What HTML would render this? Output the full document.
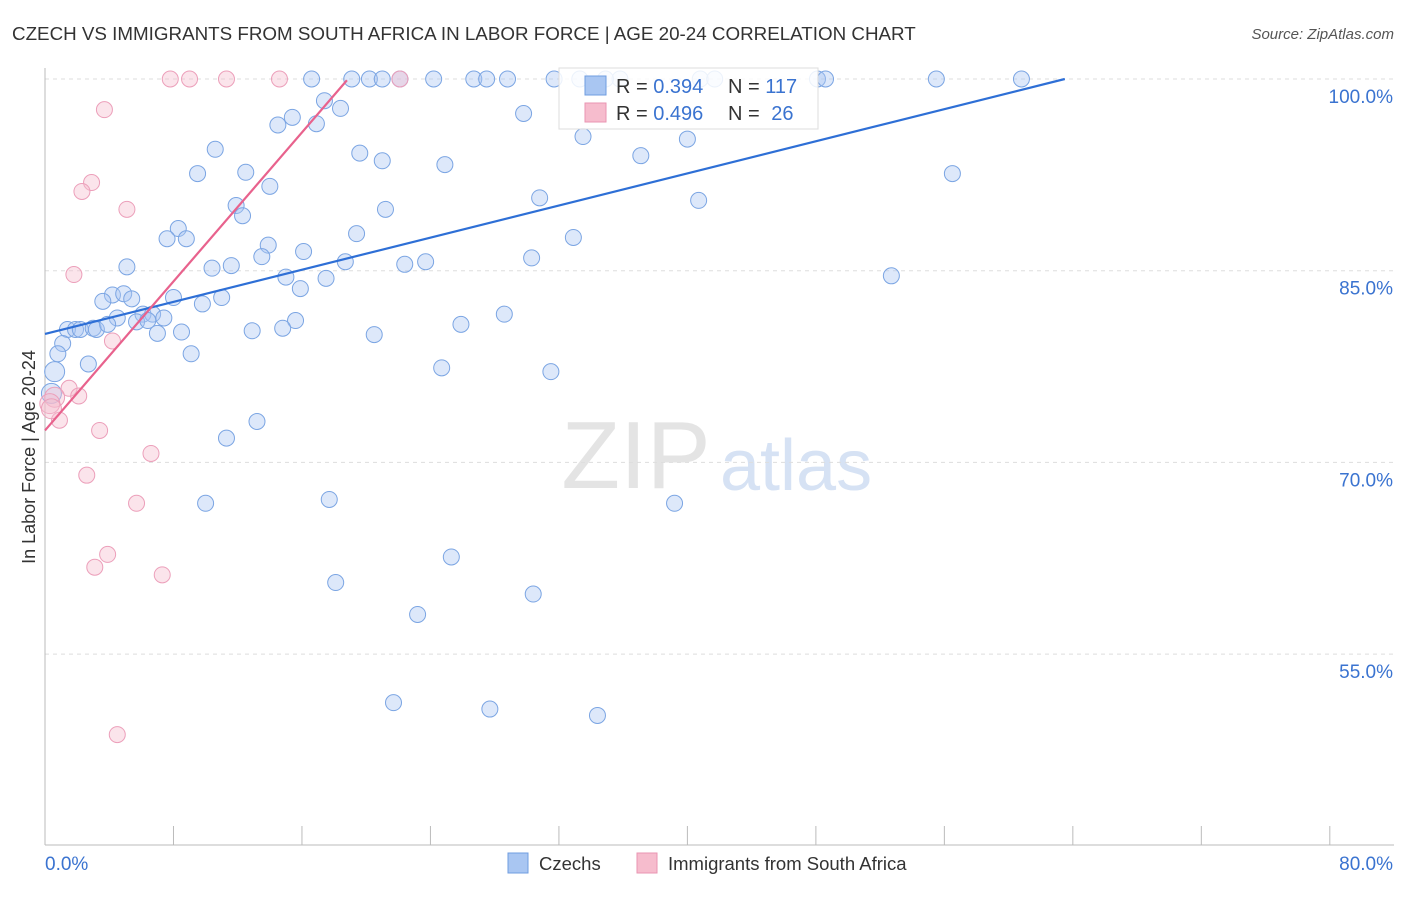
<!DOCTYPE html>
<html><head><meta charset="utf-8"><style>
body{margin:0;background:#fff;font-family:"Liberation Sans",sans-serif;}
svg text{font-family:"Liberation Sans",sans-serif;}
</style></head><body>
<svg id="chart" width="1406" height="892">
<text x="12" y="40" font-size="18.8" fill="#333">CZECH VS IMMIGRANTS FROM SOUTH AFRICA IN LABOR FORCE | AGE 20-24 CORRELATION CHART</text>
<text x="1394" y="39" font-size="15" fill="#555" font-style="italic" text-anchor="end">Source: ZipAtlas.com</text>
<text x="636" y="488" font-size="96" fill="#e4e4e4" font-family="Liberation Serif" text-anchor="middle">ZIP</text>
<text x="720" y="490" font-size="72" fill="#d6e2f4">atlas</text>
<text x="35" y="457" font-size="18" fill="#333" text-anchor="middle" transform="rotate(-90 35 457)">In Labor Force | Age 20-24</text>
<g id="grid"></g><g id="marks"></g>
<g>
<rect x="559" y="68" width="259" height="61" fill="#fff" fill-opacity="0.85" stroke="#ddd"/>
<rect x="585" y="76" width="21" height="19" fill="#a9c6f2" stroke="#6f9de0"/>
<text x="616" y="93" font-size="20" fill="#333">R = <tspan fill="#3a73d0">0.394</tspan></text>
<text x="728" y="93" font-size="20" fill="#333">N = <tspan fill="#3a73d0">117</tspan></text>
<rect x="585" y="103" width="21" height="19" fill="#f6bccd" stroke="#e995b2"/>
<text x="616" y="120" font-size="20" fill="#333">R = <tspan fill="#3a73d0">0.496</tspan></text>
<text x="728" y="120" font-size="20" fill="#333">N = <tspan dx="6" fill="#3a73d0">26</tspan></text>
</g>
<g>
<rect x="508" y="853" width="20" height="20" fill="#a9c6f2" stroke="#6f9de0"/>
<text x="539" y="870" font-size="18.5" fill="#333">Czechs</text>
<rect x="637" y="853" width="20" height="20" fill="#f6bccd" stroke="#e995b2"/>
<text x="668" y="870" font-size="18.5" fill="#333">Immigrants from South Africa</text>
</g>
</svg>
<script>
const xTickValues=[0,8,16,24,32,40,48,56,64,72,80];
const yTickValues=[100,85,70,55];
const yTickLabels=["100.0%","85.0%","70.0%","55.0%"];
const czechX=[16.6,19.1,20.2,21.0,24.2,26.7,27.5,28.8,31.7,33.3,35.8,40.8,41.7,48.1,48.6,55.5,60.8,22.1,34.9,17.4,18.4,15.4,14.5,16.9,29.8,33.5,40.0,10.6,19.6,21.0,24.9,37.1,9.5,12.5,14.0,56.5,30.8,11.9,12.3,21.2,40.7,8.3,7.6,8.8,13.9,16.1,19.4,32.9,13.5,5.1,10.4,11.6,18.7,22.4,23.7,30.3,15.0,17.5,15.9,52.7,4.2,4.9,3.6,5.4,8.0,11.0,9.8,4.5,6.1,6.7,7.4,5.7,6.4,15.6,14.8,12.9,1.4,1.9,2.2,3.0,3.2,3.9,7.0,8.5,20.5,25.9,28.6,1.1,0.8,9.1,2.7,24.7,31.5,0.6,0.4,13.2,11.3,10.0,17.7,39.2,25.3,18.1,30.4,23.2,21.7,27.7,34.4];
const czechY=[100,100,100,100,100,100,100,100,100,100,100,100,100,100,100,100,100,100,100,98.3,97.7,97.0,96.4,96.5,97.3,95.5,95.3,94.5,94.2,93.6,93.3,94.0,92.6,92.7,91.6,92.6,90.7,90.1,89.3,89.8,90.5,88.3,87.5,87.5,87.0,86.5,87.9,87.6,86.1,85.3,85.2,85.4,85.7,85.5,85.7,86.0,84.5,84.4,83.6,84.6,83.1,83.2,82.6,82.8,82.9,82.9,82.4,81.3,81.6,81.6,81.3,81.0,81.1,81.1,80.5,80.3,80.4,80.4,80.4,80.5,80.4,80.8,80.1,80.2,80.0,80.8,81.6,79.3,78.5,78.5,77.7,77.4,77.1,77.1,75.4,73.2,71.9,66.8,67.1,66.8,62.6,60.6,59.7,58.1,51.2,50.7,50.2];
const saX=[7.8,9.0,11.3,14.6,22.1,3.7,2.9,2.3,5.1,1.8,4.2,1.5,2.1,0.6,0.3,0.9,3.4,6.6,2.6,5.7,3.9,3.1,7.3,4.5,0.4];
const saY=[100,100,100,100,100,97.6,91.9,91.2,89.8,84.7,79.5,75.8,75.2,75.1,74.6,73.3,72.5,70.7,69.0,66.8,62.8,61.8,61.2,48.7,74.2];
const czechTrend=[[0,80.05],[63.5,100]];
const saTrend=[[0,72.5],[18.8,99.9]];
const NS="http://www.w3.org/2000/svg";
const xs=v=>45+v*16.06;
const ys=v=>79+(100-v)*12.78;
function mk(t,a,p){const e=document.createElementNS(NS,t);for(const k in a)e.setAttribute(k,a[k]);p.appendChild(e);return e;}
const grid=document.getElementById('grid'),marks=document.getElementById('marks');
yTickValues.forEach((v,i)=>{
 const l=mk('line',{x1:45,x2:1394,y1:ys(v),y2:ys(v),stroke:'#ddd','stroke-dasharray':'4,4'},grid);
 
 
 const t=mk('text',{x:1393,y:ys(v)+24,'font-size':19,fill:'#3a73d0','text-anchor':'end'},grid);
 t.textContent=yTickLabels[i];
 
 
});
mk('line',{x1:45,x2:45,y1:68,y2:845,stroke:'#bbb'},grid);
mk('line',{x1:45,x2:1394,y1:845,y2:845,stroke:'#bbb'},grid);
xTickValues.forEach(v=>{
 const l=mk('line',{x1:xs(v),x2:xs(v),y1:826,y2:845,stroke:'#bbb'},grid);
 
 
});
const xl=mk('text',{x:45,y:870,'font-size':19,fill:'#3a73d0'},grid);xl.textContent='0.0%';


const xr=mk('text',{x:1393,y:870,'font-size':19,fill:'#3a73d0','text-anchor':'end'},grid);xr.textContent='80.0%';


czechX.forEach((x,i)=>{
 const c=mk('circle',{cx:xs(x),cy:ys(czechY[i]),r:i>=93&&i<=94?10:8,fill:'#a9c6f2','fill-opacity':0.4,stroke:'#7ba5e3','stroke-width':1},marks);
 
 
});
saX.forEach((x,i)=>{
 const c=mk('circle',{cx:xs(x),cy:ys(saY[i]),r:i>=13&&i<=14||i==24?10:8,fill:'#f6bccd','fill-opacity':0.4,stroke:'#ec9fba','stroke-width':1},marks);
 
 
});
const t1=mk('line',{x1:xs(czechTrend[0][0]),y1:ys(czechTrend[0][1]),x2:xs(czechTrend[1][0]),y2:ys(czechTrend[1][1]),stroke:'#2e6fd6','stroke-width':2.2},marks);


const t2=mk('line',{x1:xs(saTrend[0][0]),y1:ys(saTrend[0][1]),x2:xs(saTrend[1][0]),y2:ys(saTrend[1][1]),stroke:'#e8628d','stroke-width':2.2},marks);


</script>
</body></html>
